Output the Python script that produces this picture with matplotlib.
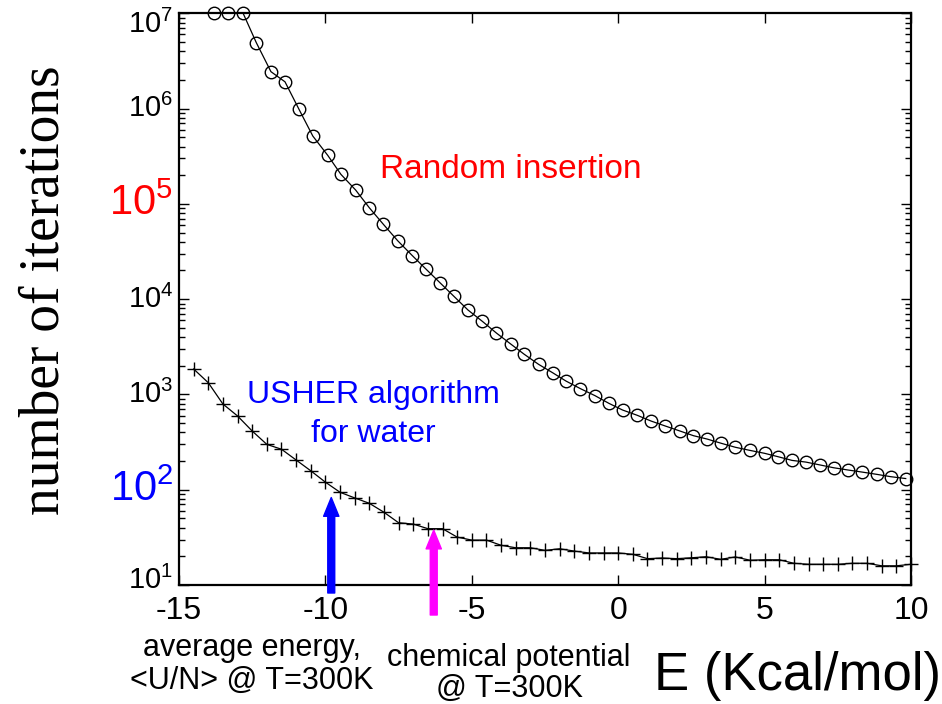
import matplotlib
matplotlib.use("Agg")
import matplotlib.pyplot as plt
from matplotlib.ticker import FixedLocator, LogLocator, NullFormatter, FixedFormatter
from matplotlib.transforms import blended_transform_factory, ScaledTranslation

# ---------------- data ----------------
rand_E = [-13.79, -13.32, -12.81, -12.36, -11.86, -11.38, -10.90, -10.43, -9.92, -9.47,
          -8.97, -8.50, -8.02, -7.53, -7.03, -6.56, -6.09, -5.61, -5.13, -4.64,
          -4.16, -3.67, -3.21, -2.72, -2.24, -1.78, -1.29, -0.79, -0.32, 0.15,
          0.65, 1.12, 1.61, 2.11, 2.57, 3.04, 3.52, 4.00, 4.49, 5.00,
          5.46, 5.94, 6.41, 6.89, 7.36, 7.85, 8.34, 8.83, 9.31, 9.82]
rand_N = [1.0e7, 1.0e7, 1.0e7, 4.92e6, 2.44e6, 1.91e6, 9.8e5, 5.15e5, 3.23e5, 2.04e5,
          1.40e5, 9.1e4, 6.10e4, 4.10e4, 2.86e4, 2.06e4, 1.49e4, 1.07e4, 7.69e3, 5.85e3,
          4.41e3, 3.38e3, 2.64e3, 2.07e3, 1.69e3, 1.38e3, 1.15e3, 970, 807, 686,
          604, 526, 466, 413, 369, 340, 307, 279, 259, 241,
          222, 203, 195, 182, 170, 161, 153, 145, 137, 131]

usher_E = [-14.5, -14.0, -13.5, -13.0, -12.5, -12.0, -11.5, -11.0, -10.5, -10.0,
           -9.5, -9.0, -8.5, -8.0, -7.5, -7.0, -6.5, -6.0, -5.5, -5.0,
           -4.5, -4.0, -3.5, -3.0, -2.5, -2.0, -1.5, -1.0, -0.5, 0.0,
           0.5, 1.0, 1.5, 2.0, 2.5, 3.0, 3.5, 4.0, 4.5, 5.0,
           5.5, 6.0, 6.5, 7.0, 7.5, 8.0, 8.5, 9.0, 9.5, 10.0]
usher_N = [1849, 1327, 793, 594, 413, 299, 266, 205, 158, 120,
           94, 82, 72, 58, 45, 43.6, 39, 39, 31.8, 29.6,
           29.6, 26.1, 24.6, 24.6, 23.1, 24.0, 22.7, 21.7, 21.7, 21.7,
           21.0, 18.9, 19.2, 18.9, 19.3, 19.8, 18.6, 19.7, 18.2, 18.4,
           18.4, 16.9, 16.5, 16.5, 16.5, 16.9, 16.9, 15.9, 15.9, 16.5]

x_ticks = [-15, -10, -5, 0, 5, 10]
x_ticklabels = ["-15", "-10", "-5", "0", "5", "10"]
y_ticks = [1e1, 1e2, 1e3, 1e4, 1e5, 1e6, 1e7]
y_ticklabels = [r"$10^{1}$", r"$10^{2}$", r"$10^{3}$", r"$10^{4}$",
                r"$10^{5}$", r"$10^{6}$", r"$10^{7}$"]
y_tickcolors = ["black", "blue", "black", "black", "red", "black", "black"]
y_ticksizes = [21, 30, 21, 21, 30, 21, 21]
y_tickshift = [5, 0, 0, 0, 0, 0, -11]   # pixel nudges (up +) for the end labels

avg_energy = -9.8      # <U/N> @ 300K
chem_pot = -6.3        # chemical potential @ 300K

# ---------------- style ----------------
plt.rcParams["font.family"] = ["Liberation Sans", "DejaVu Sans"]
plt.rcParams["mathtext.fontset"] = "custom"
plt.rcParams["mathtext.rm"] = "Liberation Sans"
plt.rcParams["mathtext.it"] = "Liberation Sans:italic"
plt.rcParams["mathtext.bf"] = "Liberation Sans:bold"
plt.rcParams["mathtext.default"] = "regular"

W, H = 942, 704
fig = plt.figure(figsize=(W / 100, H / 100), dpi=100, facecolor="white")
ax = fig.add_axes([179 / W, 1 - 585 / H, (911 - 179) / W, (585 - 13.3) / H])

ax.plot(rand_E, rand_N, color="black", lw=0.9, marker="o", ms=9,
        mfc="none", mec="black", mew=1.0, clip_on=False, zorder=3)
ax.plot(usher_E, usher_N, color="black", lw=0.9, marker="+", ms=10,
        mew=1.0, clip_on=False, zorder=3)

ax.set_yscale("log")
ax.set_xlim(-15, 10)
ax.set_ylim(1e1, 1e7)

ax.xaxis.set_major_locator(FixedLocator(x_ticks))
ax.xaxis.set_major_formatter(FixedFormatter(x_ticklabels))
ax.yaxis.set_major_locator(FixedLocator(y_ticks))
ax.yaxis.set_major_formatter(NullFormatter())
ax.yaxis.set_minor_locator(LogLocator(base=10, subs=range(2, 10), numticks=20))
ax.yaxis.set_minor_formatter(NullFormatter())

ax.tick_params(which="both", direction="in", top=True, right=True, width=1.0)
ax.tick_params(which="major", length=7)
ax.tick_params(which="minor", length=4)
ax.tick_params(axis="x", which="major", pad=8, labelsize=23)

for sp in ax.spines.values():
    sp.set_linewidth(1.6)

# y tick labels as text next to the axis
ytrans = blended_transform_factory(ax.transAxes, ax.transData)
for v, lab, c, s, dy in zip(y_ticks, y_ticklabels, y_tickcolors, y_ticksizes, y_tickshift):
    tr = ytrans + ScaledTranslation(-6 / 100, dy / 100, fig.dpi_scale_trans)
    ax.text(0, v, lab, transform=tr, color=c, fontsize=s, ha="right",
            va="center", clip_on=False)

# curve labels
ax.text(0.4536, 0.7114, "Random insertion", transform=ax.transAxes, color="red",
        fontsize=24, ha="center", va="baseline")
ax.text(0.265, 0.318, "USHER algorithm", transform=ax.transAxes, color="blue",
        fontsize=23, ha="center", va="baseline")
ax.text(0.265, 0.2496, "for water", transform=ax.transAxes, color="blue",
        fontsize=23, ha="center", va="baseline")

# arrows
arrow_style = "simple,head_length=1.35,head_width=1.1,tail_width=0.5"
ax.annotate("", xy=(avg_energy, 0.153), xytext=(avg_energy, -0.014),
            xycoords=("data", "axes fraction"), textcoords=("data", "axes fraction"),
            annotation_clip=False,
            arrowprops=dict(arrowstyle=arrow_style, color="blue",
                            shrinkA=0, shrinkB=0, mutation_scale=10))
ax.annotate("", xy=(chem_pot, 0.096), xytext=(chem_pot, -0.0525),
            xycoords=("data", "axes fraction"), textcoords=("data", "axes fraction"),
            annotation_clip=False,
            arrowprops=dict(arrowstyle=arrow_style, color="magenta",
                            shrinkA=0, shrinkB=0, mutation_scale=10))

# axis labels & annotations (figure coordinates)
fig.text(45 / W, 1 - 290 / H, "number of iterations", family="Liberation Serif",
         fontsize=40, rotation=90, ha="center", va="center")
fig.text(797 / W, 1 - 690 / H, "E (Kcal/mol)", fontsize=38,
         ha="center", va="baseline")
fig.text(252 / W, 1 - 656 / H, "average energy,", fontsize=22,
         ha="center", va="baseline")
fig.text(252 / W, 1 - 689 / H, "<U/N> @ T=300K", fontsize=22,
         ha="center", va="baseline")
fig.text(509 / W, 1 - 666 / H, "chemical potential", fontsize=22,
         ha="center", va="baseline")
fig.text(509 / W, 1 - 697 / H, "@ T=300K", fontsize=22,
         ha="center", va="baseline")

fig.savefig("out.png", dpi=100, facecolor="white")
